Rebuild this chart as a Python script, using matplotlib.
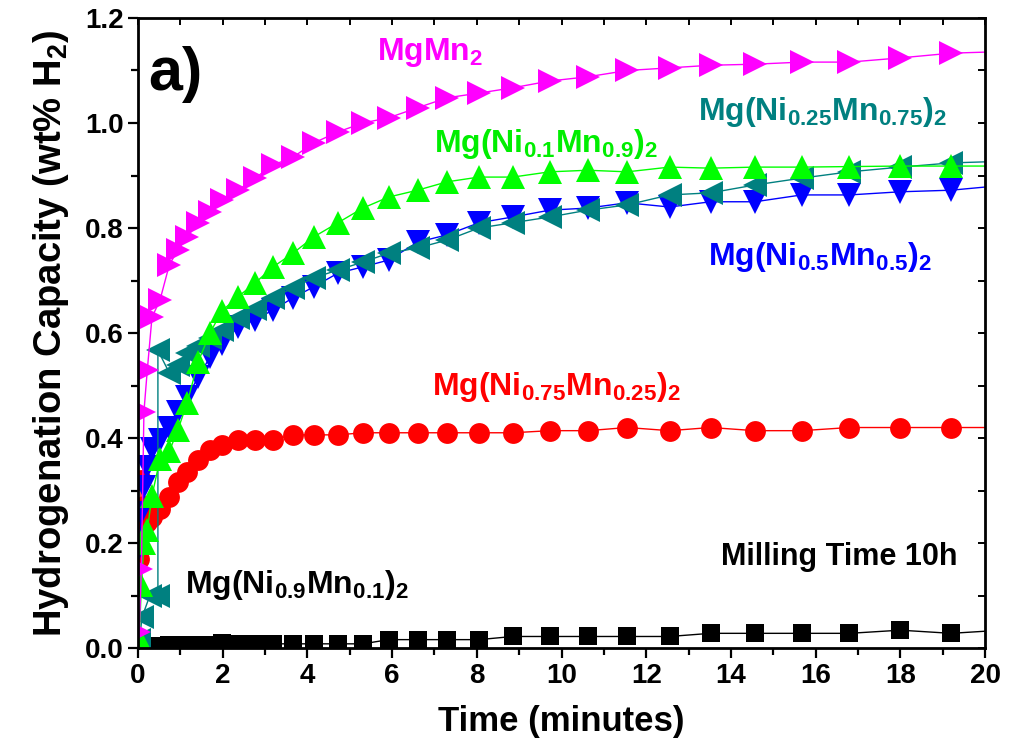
import matplotlib
matplotlib.use("Agg")
import matplotlib.pyplot as plt
from matplotlib.ticker import MultipleLocator

plt.rcParams["font.family"] = ["Liberation Sans", "DejaVu Sans"]
plt.rcParams["font.weight"] = "bold"
plt.rcParams["mathtext.fontset"] = "custom"
plt.rcParams["mathtext.rm"] = "Liberation Sans:bold"
plt.rcParams["mathtext.bf"] = "Liberation Sans:bold"
plt.rcParams["mathtext.it"] = "Liberation Sans:bold"

# === data (time in minutes, capacity in wt% H2) ===
time = [0.03, 0.08, 0.14, 0.22, 0.33, 0.52, 0.74, 0.94, 1.16, 1.42,
        1.70, 1.98, 2.36, 2.76, 3.19, 3.66, 4.15, 4.72, 5.31, 5.92,
        6.60, 7.30, 8.05, 8.85, 9.72, 10.62, 11.55, 12.55, 13.52, 14.57,
        15.67, 16.80, 18.00, 19.20, 20.00]

cap_mgmn2 = [0.03, 0.15, 0.45, 0.53, 0.63, 0.663, 0.73, 0.758, 0.783, 0.81,
             0.83, 0.853, 0.872, 0.895, 0.92, 0.935, 0.962, 0.983, 1.0, 1.01,
             1.029, 1.048, 1.057, 1.067, 1.08, 1.088, 1.10, 1.105, 1.11, 1.112,
             1.116, 1.116, 1.124, 1.133, 1.135]

cap_ni01 = [0.02, 0.12, 0.20, 0.225, 0.29, 0.36, 0.375, 0.415, 0.467, 0.545,
            0.60, 0.642, 0.669, 0.695, 0.726, 0.752, 0.783, 0.81, 0.838, 0.859,
            0.872, 0.888, 0.897, 0.897, 0.907, 0.91, 0.907, 0.916, 0.914, 0.916,
            0.916, 0.917, 0.918, 0.918, 0.918]

cap_ni05 = [0.19, 0.257, 0.307, 0.345, 0.38, 0.396, 0.42, 0.45, 0.478, 0.516,
            0.554, 0.58, 0.611, 0.625, 0.644, 0.667, 0.688, 0.714, 0.726, 0.739,
            0.773, 0.787, 0.81, 0.821, 0.834, 0.838, 0.848, 0.84, 0.85, 0.85,
            0.863, 0.863, 0.869, 0.872, 0.878]

cap_ni075 = [0.17, 0.32, 0.27, 0.24, 0.25, 0.265, 0.288, 0.316, 0.335, 0.358,
             0.377, 0.387, 0.396, 0.397, 0.397, 0.406, 0.406, 0.406, 0.41, 0.41,
             0.41, 0.41, 0.41, 0.41, 0.414, 0.414, 0.42, 0.414, 0.42, 0.414,
             0.414, 0.42, 0.42, 0.42, 0.42]

cap_ni09 = [0.0, 0.0, 0.001, 0.002, 0.003, 0.004, 0.005, 0.005, 0.006, 0.006,
            0.006, 0.01, 0.008, 0.008, 0.008, 0.008, 0.008, 0.008, 0.008, 0.016,
            0.016, 0.016, 0.016, 0.022, 0.022, 0.022, 0.022, 0.022, 0.028, 0.028,
            0.028, 0.028, 0.034, 0.028, 0.032]

# Ni0.25 sample has its own start (jump near 0.5 min), then the common grid
time_ni025 = [0.03, 0.10, 0.28, 0.47, 0.47] + time[6:]
cap_ni025 = [0.015, 0.06, 0.10, 0.10, 0.567,
             0.524, 0.54, 0.561, 0.575, 0.59, 0.605, 0.628, 0.645, 0.667, 0.686,
             0.705, 0.72, 0.735, 0.752, 0.762, 0.777, 0.80, 0.81, 0.821, 0.834,
             0.844, 0.863, 0.867, 0.882, 0.895, 0.907, 0.916, 0.924, 0.926]

fig = plt.figure(figsize=(10.11, 7.53), dpi=100)
ax = fig.add_axes([0.1365, 0.1394, 0.8378, 0.8367])


def draw(t, v, color, marker, ms):
    # last point (t=20) only continues the line, no marker there
    ax.plot(t, v, color=color, lw=1.0, marker=marker, ms=ms,
            markeredgewidth=0, markevery=list(range(len(t) - 1)))


draw(time, cap_ni09, "black", "s", 13)
draw(time, cap_ni075, "#ff0000", "o", 15)
draw(time, cap_ni05, "#0000ff", "v", 17)
draw(time_ni025, cap_ni025, "#008080", "<", 17)
draw(time, cap_ni01, "#00ff00", "^", 17)
draw(time, cap_mgmn2, "#ff00ff", ">", 17)

ax.set_xlim(0, 20)
ax.set_ylim(0, 1.2)
ax.xaxis.set_major_locator(MultipleLocator(2))
ax.xaxis.set_minor_locator(MultipleLocator(1))
ax.yaxis.set_major_locator(MultipleLocator(0.2))
ax.yaxis.set_minor_locator(MultipleLocator(0.1))
ax.yaxis.set_major_formatter(plt.FormatStrFormatter("%.1f"))

for s in ax.spines.values():
    s.set_linewidth(2.0)
ax.tick_params(which="both", direction="out", width=1.6, labelsize=20)
ax.tick_params(which="major", length=7)
ax.tick_params(which="minor", length=5)

# top / right axes: inward ticks without labels
top = ax.secondary_xaxis("top")
top.xaxis.set_major_locator(MultipleLocator(2))
top.xaxis.set_minor_locator(MultipleLocator(1))
top.tick_params(which="both", direction="in", labeltop=False, width=1.4, length=5)
right = ax.secondary_yaxis("right")
right.yaxis.set_major_locator(MultipleLocator(0.2))
right.yaxis.set_minor_locator(MultipleLocator(0.1))
right.tick_params(which="both", direction="in", labelright=False, width=1.4, length=5)

ax.set_xlabel("Time (minutes)", fontsize=25, fontweight="bold", labelpad=12)
ax.set_ylabel("Hydrogenation Capacity (wt% H$_2$)", fontsize=27.5,
              fontweight="bold", labelpad=10)

ax.text(0.24, 1.063, "a)", fontsize=44, fontweight="bold", color="black")
ax.text(5.64, 1.12, "MgMn$_2$", fontsize=23, fontweight="bold", color="#ff00ff")
ax.text(7.0, 0.945, "Mg(Ni$_{0.1}$Mn$_{0.9}$)$_2$", fontsize=23,
        fontweight="bold", color="#00ee00")
ax.text(13.22, 1.005, "Mg(Ni$_{0.25}$Mn$_{0.75}$)$_2$", fontsize=23,
        fontweight="bold", color="#008080")
ax.text(13.46, 0.73, "Mg(Ni$_{0.5}$Mn$_{0.5}$)$_2$", fontsize=23,
        fontweight="bold", color="#0000ff")
ax.text(6.94, 0.482, "Mg(Ni$_{0.75}$Mn$_{0.25}$)$_2$", fontsize=23,
        fontweight="bold", color="#ff0000")
ax.text(1.1, 0.105, "Mg(Ni$_{0.9}$Mn$_{0.1}$)$_2$", fontsize=23,
        fontweight="bold", color="black")
ax.text(19.35, 0.158, "Milling Time 10h", fontsize=22, fontweight="bold",
        color="black", ha="right")

fig.savefig("out.png", dpi=100)
